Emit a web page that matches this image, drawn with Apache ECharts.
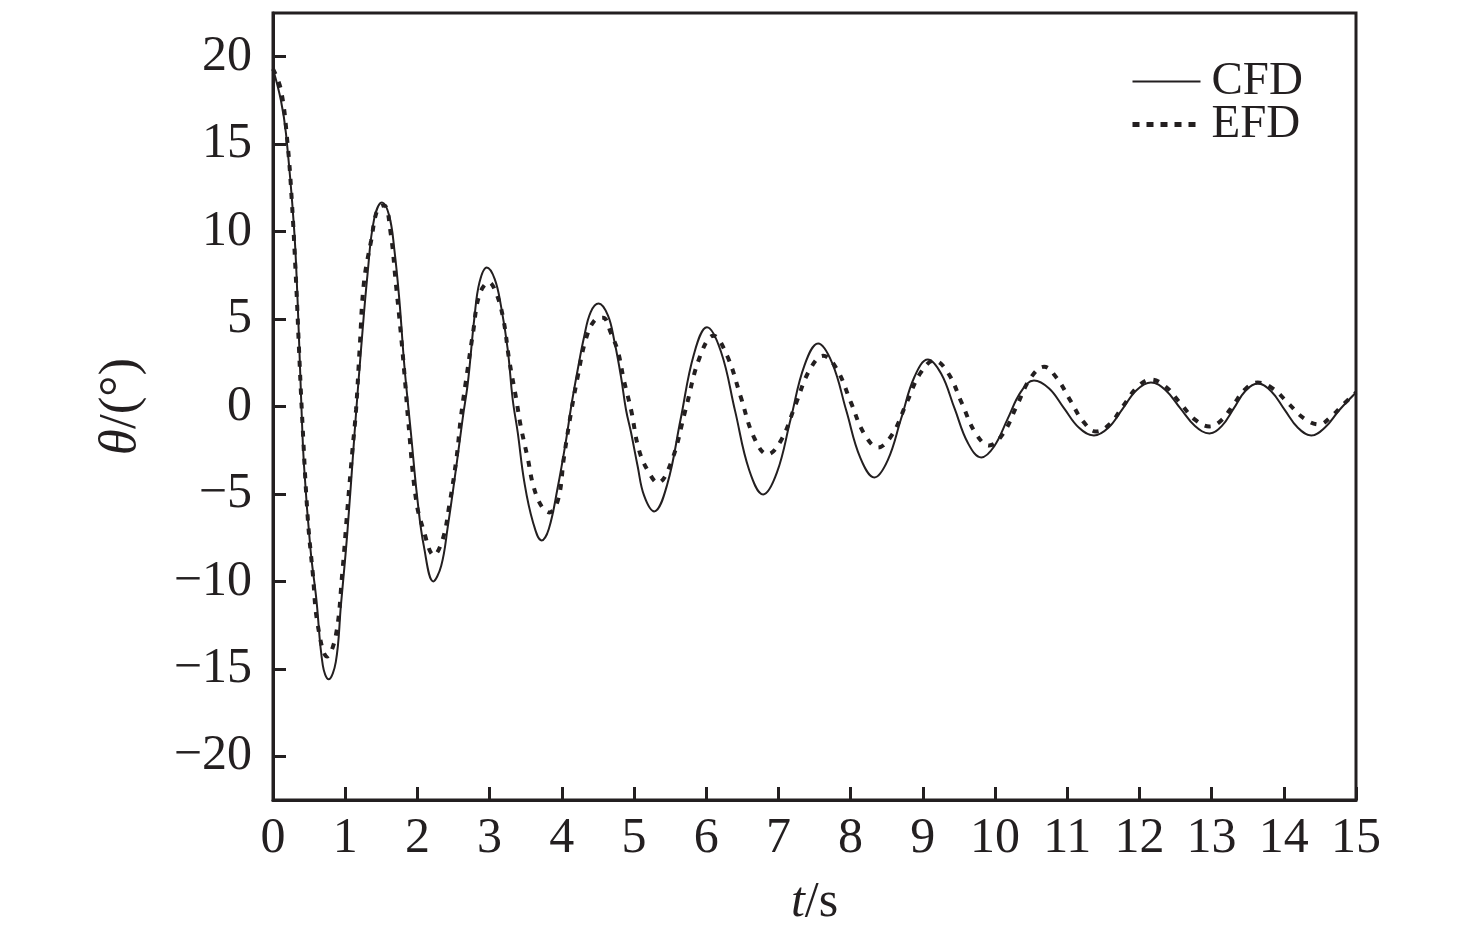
<!DOCTYPE html>
<html>
<head>
<meta charset="utf-8">
<script src="https://cdn.jsdelivr.net/npm/echarts@6/dist/echarts.min.js"></script>
<style>
html,body{margin:0;padding:0;background:#fff;}
#chart{width:1476px;height:949px;}
</style>
</head>
<body>
<div id="chart"></div>
<script>
// ---- data ----
const seriesNames = ['CFD', 'EFD'];
const yTicks = [-20, -15, -10, -5, 0, 5, 10, 15, 20];

const cfdTime = [0, 0.11, 0.18, 0.29, 0.34, 0.39, 0.43, 0.52, 0.60, 0.69, 0.77, 0.87, 0.94, 1.03, 1.13, 1.22, 1.31, 1.40, 1.51, 1.61, 1.68, 1.75, 1.82, 1.91, 2.00, 2.09, 2.22, 2.33, 2.42, 2.54, 2.63, 2.70, 2.79, 2.86, 2.96, 3.07, 3.16, 3.25, 3.32, 3.39, 3.48, 3.60, 3.72, 3.82, 3.94, 4.06, 4.13, 4.22, 4.31, 4.40, 4.51, 4.64, 4.73, 4.82, 4.89, 4.96, 5.05, 5.14, 5.28, 5.46, 5.645, 5.83, 6.01, 6.205, 6.40, 6.595, 6.79, 6.98, 7.17, 7.36, 7.55, 7.745, 7.94, 8.135, 8.33, 8.515, 8.70, 8.885, 9.07, 9.255, 9.44, 9.625, 9.81, 9.99, 10.175, 10.36, 10.54, 10.75, 10.955, 11.16, 11.37, 11.57, 11.765, 11.96, 12.16, 12.36, 12.565, 12.77, 12.97, 13.14, 13.305, 13.47, 13.64, 13.825, 14.01, 14.195, 14.38, 14.57, 14.77, 15.0];
const cfdTheta = [19.3, 17.5, 15.6, 10.3, 6.1, 0.4, -3.4, -8.2, -11.0, -14.8, -15.6, -14.6, -11.4, -7.2, -1.5, 3.3, 7.6, 10.7, 11.66, 10.9, 9.0, 6.1, 2.3, -1.5, -5.3, -8.0, -10.0, -9.1, -6.9, -3.4, -0.6, 1.4, 5.1, 7.1, 7.95, 7.3, 5.7, 3.3, 0.4, -1.5, -4.3, -6.6, -7.66, -7.0, -4.7, -1.9, 0, 2.1, 4.0, 5.4, 5.89, 5.2, 3.7, 1.7, -0.2, -1.5, -3.4, -5.1, -6.0, -4.46, -0.74, 2.99, 4.53, 3.13, -0.25, -3.63, -5.03, -3.77, -0.72, 2.34, 3.6, 2.48, -0.23, -2.94, -4.06, -3.07, -0.69, 1.70, 2.69, 1.87, -0.11, -2.09, -2.91, -2.27, -0.71, 0.85, 1.49, 1.03, -0.09, -1.2, -1.66, -1.22, -0.15, 0.93, 1.37, 0.94, -0.09, -1.11, -1.54, -1.12, -0.12, 0.9, 1.31, 0.87, -0.18, -1.22, -1.66, -1.2, -0.2, 0.8];

const efdTime = [0, 0.11, 0.20, 0.26, 0.32, 0.36, 0.40, 0.48, 0.55, 0.62, 0.75, 0.87, 0.96, 1.03, 1.10, 1.15, 1.20, 1.26, 1.36, 1.45, 1.54, 1.63, 1.70, 1.77, 1.83, 1.87, 1.98, 2.08, 2.23, 2.35, 2.44, 2.54, 2.60, 2.67, 2.77, 2.86, 2.99, 3.09, 3.19, 3.27, 3.37, 3.43, 3.53, 3.61, 3.72, 3.83, 3.95, 4.03, 4.13, 4.22, 4.33, 4.45, 4.57, 4.68, 4.78, 4.86, 4.96, 5.07, 5.21, 5.33, 5.52, 5.715, 5.91, 6.10, 6.29, 6.475, 6.66, 6.85, 7.04, 7.235, 7.43, 7.62, 7.81, 8.0, 8.19, 8.38, 8.575, 8.77, 8.965, 9.16, 9.35, 9.54, 9.73, 9.92, 10.11, 10.30, 10.49, 10.68, 10.86, 11.05, 11.22, 11.40, 11.59, 11.78, 11.97, 12.16, 12.36, 12.565, 12.77, 12.97, 13.14, 13.305, 13.47, 13.64, 13.85, 14.065, 14.28, 14.49, 14.65, 14.82, 15.0];
const efdTheta = [19.3, 18.1, 15.1, 11.8, 7.1, 3.3, -0.3, -6.3, -9.5, -12.5, -14.3, -13.1, -9.5, -5.9, -2.5, -0.2, 3.3, 7.1, 9.5, 11.3, 11.5, 9.9, 7.1, 4.2, 1.4, -0.7, -5.3, -7.0, -8.5, -7.6, -5.7, -3.0, -0.7, 1.4, 4.2, 6.4, 7.1, 6.5, 5.0, 2.7, 0.4, -1.1, -3.0, -4.6, -5.7, -6.06, -5.3, -2.9, -0.3, 1.7, 3.8, 4.9, 5.08, 4.2, 3.1, 1.5, -0.2, -2.5, -3.8, -4.36, -3.13, -0.16, 2.82, 4.05, 2.9, 0.6, -1.75, -2.74, -1.91, 0.08, 2.07, 2.9, 2.13, 0.28, -1.57, -2.34, -1.61, 0.15, 1.9, 2.63, 1.92, 0.2, -1.52, -2.23, -1.57, 0.02, 1.61, 2.27, 1.6, 0.3, -0.85, -1.43, -1.0, 0.06, 1.11, 1.54, 1.15, 0.2, -0.75, -1.14, -0.77, 0.12, 1.0, 1.37, 1.02, 0.17, -0.68, -1.03, -0.6, 0.1, 0.8];

// ---- chart ----
const INK = '#231f20';
const FONT = '"Liberation Serif", "Times New Roman", serif';
const zip = (a, b) => a.map((v, i) => [v, b[i]]);

const chart = echarts.init(document.getElementById('chart'), null, {renderer: 'canvas'});
chart.setOption({
  animation: false,
  backgroundColor: '#fff',
  grid: {
    left: 273, right: 120, top: 13, bottom: 149,
    show: true, borderColor: INK, borderWidth: 3, backgroundColor: 'transparent'
  },
  legend: {
    orient: 'vertical',
    left: 1125, top: 53,
    itemWidth: 68, itemHeight: 14, itemGap: -4,
    itemStyle: {opacity: 0},
    data: [
      {name: seriesNames[0], lineStyle: {color: INK, width: 2, type: 'solid'}},
      {name: seriesNames[1], lineStyle: {color: INK, width: 5, type: [7, 7]}}
    ],
    textStyle: {fontFamily: FONT, fontSize: 47, color: INK, padding: [0, 0, 0, 6]}
  },
  xAxis: {
    type: 'value', min: 0, max: 15, interval: 1,
    name: '{i|t}/s', nameLocation: 'middle', nameGap: 78,
    nameTextStyle: {fontFamily: FONT, fontSize: 50, color: INK,
      rich: {i: {fontFamily: FONT, fontStyle: 'italic', fontSize: 50, color: INK}}},
    axisLine: {show: true, onZero: false, lineStyle: {color: INK, width: 3}},
    axisTick: {show: true, inside: true, length: 13, lineStyle: {color: INK, width: 3}},
    axisLabel: {fontFamily: FONT, fontSize: 50, color: INK, margin: 14},
    splitLine: {show: false}
  },
  yAxis: {
    type: 'value', min: -22.5, max: 22.5,
    name: '{i|θ}/(°)', nameLocation: 'middle', nameGap: 125,
    nameTextStyle: {fontFamily: FONT, fontSize: 53, color: INK,
      rich: {i: {fontFamily: FONT, fontStyle: 'italic', fontSize: 53, color: INK}}},
    axisLine: {show: true, onZero: false, lineStyle: {color: INK, width: 3}},
    axisTick: {show: true, inside: true, length: 13, customValues: yTicks, lineStyle: {color: INK, width: 3}},
    axisLabel: {fontFamily: FONT, fontSize: 50, color: INK, margin: 21, customValues: yTicks,
      formatter: v => String(v).replace('-', '\u2212')},
    splitLine: {show: false}
  },
  series: [
    {
      name: seriesNames[0], type: 'line', data: zip(cfdTime, cfdTheta),
      smooth: 0.4, symbol: 'none', clip: true,
      lineStyle: {color: INK, width: 2, type: 'solid'},
      itemStyle: {color: INK}
    },
    {
      name: seriesNames[1], type: 'line', data: zip(efdTime, efdTheta),
      smooth: 0.4, symbol: 'none', clip: true,
      lineStyle: {color: INK, width: 4, type: [6, 8]},
      itemStyle: {color: INK}
    }
  ]
});
</script>
</body>
</html>
